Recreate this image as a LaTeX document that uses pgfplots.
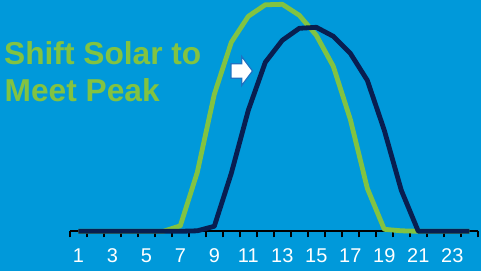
\documentclass[border=0pt]{standalone}
\usepackage{fontspec}
\setmainfont{Liberation Sans}
\usepackage{pgfplots}
\pgfplotsset{compat=1.18}
\definecolor{bgblue}{RGB}{0,153,218}
\definecolor{solgreen}{RGB}{130,195,65}
\definecolor{navy}{RGB}{8,30,80}
\definecolor{arrowedge}{RGB}{30,115,195}
\begin{document}
\begin{tikzpicture}
\fill[bgblue] (0,0) rectangle (481bp,271bp);
\begin{axis}[
  at={(69.8bp,39.7bp)}, anchor=south west,
  scale only axis, width=408bp, height=231.3bp,
  xmin=0.5, xmax=24.5, ymin=0, ymax=231.3,
  clip=false,
  axis x line=bottom, axis y line=none,
  x axis line style={-, black, line width=1.6bp},
  xtick={1,3,...,23},
  xticklabels={1,3,5,7,9,11,13,15,17,19,21,23},
  minor xtick={0.5,1.5,...,24.5},
  tick align=outside,
  major tick length=0pt,
  minor tick length=6bp,
  every minor tick/.append style={black, line width=1.4bp},
  xticklabel style={anchor=base, text=white, inner sep=0pt, yshift=-30.8bp,
    font=\fontsize{20}{22}\selectfont},
]
\addplot[solgreen, line width=4.8bp, line join=round] coordinates {
(1,0)(2,0)(3,0)(4,0)(5,0)(6,0)(7,5.5)(8,59)(9,137)(10,189)(11,215)(12,226.5)
(13,227)(14,216)(15,196)(16,165)(17,112)(18,43)(19,2)(20,0.5)(21,0)(22,0)(23,0)(24,0)};
\addplot[navy, line width=4.8bp, line join=round] coordinates {
(1,0)(2,0)(3,0)(4,0)(5,0)(6,0)(7,0)(8,0.5)(9,5)(10,58)(11,121)(12,169)
(13,191)(14,203)(15,204)(16,195)(17,178)(18,151)(19,101)(20,41)(21,0)(22,0)(23,0)(24,0)};
\end{axis}
\node[anchor=base west, inner sep=0pt, text=solgreen, font=\fontsize{31.8}{36}\selectfont\bfseries] at (4bp,206bp) {Shift Solar to};
\node[anchor=base west, inner sep=0pt, text=solgreen, font=\fontsize{31.8}{36}\selectfont\bfseries] at (4.5bp,169.3bp) {Meet Peak};
\filldraw[fill=white, draw=arrowedge, line width=1.2bp, line join=miter]
  (231bp,192.7bp) -- (241.7bp,192.7bp) -- (241.7bp,185.5bp) -- (252.5bp,200bp)
  -- (241.7bp,214.5bp) -- (241.7bp,207.3bp) -- (231bp,207.3bp) -- cycle;
\pgfresetboundingbox
\path[use as bounding box] (0,0) rectangle (481bp,271bp);
\end{tikzpicture}
\end{document}
